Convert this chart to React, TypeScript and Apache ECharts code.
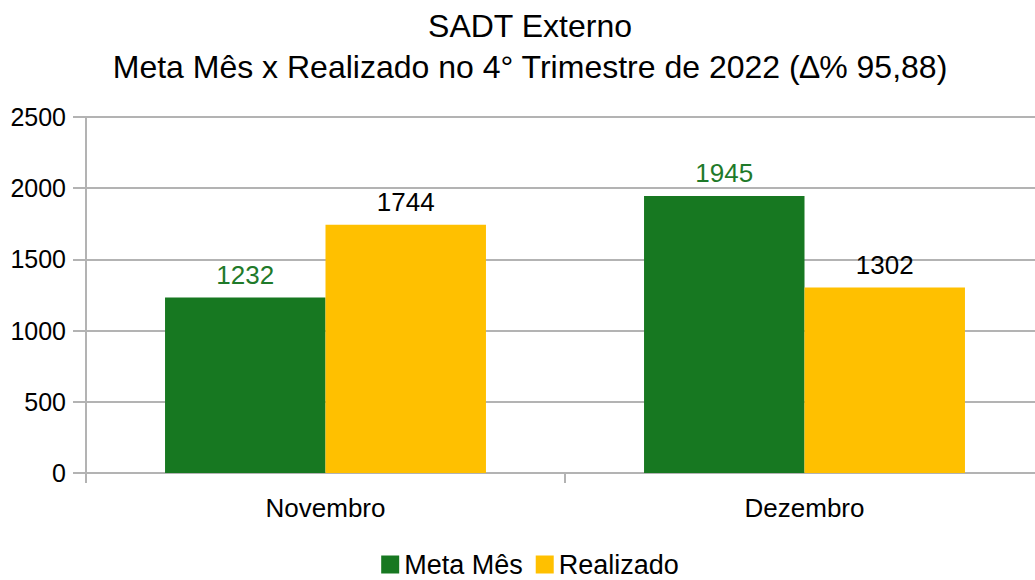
import React, { useEffect, useRef } from "react";
import * as echarts from "echarts";

const categories = ["Novembro", "Dezembro"];
const metaMes = [1232, 1945];
const realizado = [1744, 1302];
const yTicks = [0, 500, 1000, 1500, 2000, 2500];

export default function App() {
  const ref = useRef<HTMLDivElement>(null);
  useEffect(() => {
    if (!ref.current) return;
    const chart = echarts.init(ref.current, null, { renderer: "svg" });
    const font = "'Liberation Sans', Arial, sans-serif";
    chart.setOption({
      animation: false,
      textStyle: { fontFamily: font },
      title: {
        text: "SADT Externo\nMeta Mês x Realizado no 4° Trimestre de 2022 (∆% 95,88)",
        left: "center",
        top: 0,
        padding: [5, 30, 5, 5],
        textStyle: { fontFamily: font, fontSize: 32, fontWeight: "normal", color: "#000", lineHeight: 41 },
      },
      legend: {
        bottom: -3,
        left: "center",
        padding: [5, 30, 5, 5],
        itemWidth: 18,
        itemHeight: 18,
        itemGap: 13,
        icon: "rect",
        textStyle: { fontFamily: font, fontSize: 27, lineHeight: 27, color: "#000", padding: [0, 0, 0, 0] },
        data: ["Meta Mês", "Realizado"],
      },
      grid: { left: 86, top: 117, width: 958, height: 356, containLabel: false },
      xAxis: {
        type: "category",
        data: categories,
        axisLine: { lineStyle: { color: "#b3b3b3", width: 2 } },
        axisTick: { show: true, length: 10, lineStyle: { color: "#b3b3b3", width: 2 } },
        axisLabel: { fontFamily: font, fontSize: 26, color: "#000", margin: 22 },
      },
      yAxis: {
        type: "value",
        min: yTicks[0],
        max: yTicks[yTicks.length - 1],
        interval: 500,
        axisLine: { show: true, lineStyle: { color: "#b3b3b3", width: 2 } },
        axisTick: { show: true, length: 13, lineStyle: { color: "#b3b3b3", width: 2 } },
        splitLine: { lineStyle: { color: "#b3b3b3", width: 2 } },
        axisLabel: { fontFamily: font, fontSize: 25, color: "#000", margin: 20, formatter: (v: number) => String(v) },
      },
      series: [
        {
          name: "Meta Mês",
          type: "bar",
          data: metaMes,
          barGap: "0%",
          barCategoryGap: "33%",
          itemStyle: { color: "#177821" },
          label: { show: true, position: "top", distance: 10, fontFamily: font, fontSize: 26, color: "#1f7a2a" },
        },
        {
          name: "Realizado",
          type: "bar",
          data: realizado,
          barGap: "0%",
          barCategoryGap: "33%",
          itemStyle: { color: "#ffc000" },
          label: { show: true, position: "top", distance: 10, fontFamily: font, fontSize: 26, color: "#000" },
        },
      ],
    });
    return () => chart.dispose();
  }, []);
  return (
    <div style={{ position: "absolute", left: 0, top: 0, width: 1035, height: 580, overflow: "hidden", background: "#fff" }}>
      <div ref={ref} style={{ width: 1060, height: 580 }} />
    </div>
  );
}
